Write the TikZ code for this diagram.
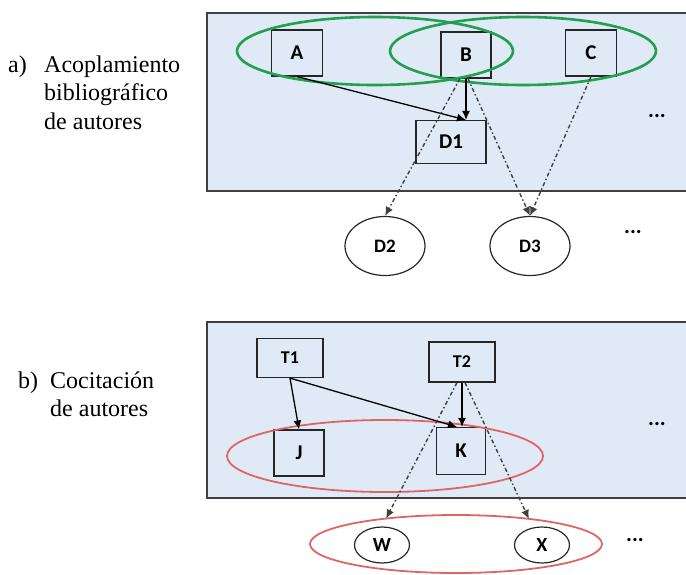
\documentclass[tikz,border=0pt]{standalone}
\usepackage{fontspec}
\setmainfont{Liberation Serif}
\newfontfamily\boxfont{Carlito}
\usetikzlibrary{arrows.meta,shapes.geometric}
\definecolor{panelblue}{HTML}{DFEAF6}
\definecolor{grpgreen}{HTML}{22A04F}
\definecolor{grpred}{HTML}{E06464}
\definecolor{dashgray}{HTML}{404040}
\begin{document}
\begin{tikzpicture}[x=1pt,y=-1pt,
  panel/.style={draw=black!75,line width=1.5pt,fill=panelblue},
  sq/.style={draw=black!85,line width=1.2pt,inner sep=0pt,font=\boxfont\bfseries\fontsize{21}{21}\selectfont},
  circ/.style={ellipse,draw=black!85,line width=1.2pt,inner sep=0pt,font=\boxfont\bfseries\fontsize{19}{19}\selectfont},
  greengrp/.style={ellipse,draw=grpgreen,line width=2.6pt,inner sep=0pt,outer sep=0pt},
  redgrp/.style={ellipse,draw=grpred,line width=1.8pt,inner sep=0pt,outer sep=0pt},
  arr/.style={draw=black,line width=1.3pt,-{Latex[length=9pt,width=8pt]}},
  darr/.style={draw=dashgray,line width=1.4pt,dash pattern=on 4pt off 2.5pt on 1.5pt off 2.5pt,-{Latex[length=9pt,width=8pt]}},
  dots/.style={font=\boxfont\bfseries\fontsize{22}{22}\selectfont,inner sep=0pt},
  lbl/.style={font=\rmfamily\fontsize{24}{28.5}\selectfont,inner sep=0pt,anchor=base west,align=left}
]
\useasboundingbox (0,0) rectangle (686,574);
\clip (0,0) rectangle (686,574);

% panels
\draw[panel] (207,13) rectangle (694,191);
\draw[panel] (207,322) rectangle (694,498);

% labels (base anchor of a multi-line node = baseline of its last line)
\node[lbl] (la0) at (8,72) {a)};
\node[lbl] (la) at (44,129) {Acoplamiento\\bibliográfico\\de autores};
\node[lbl] (lb0) at (18,388) {b)};
\node[lbl] (lb) at (50,416.5) {Cocitación\\de autores};

% top panel nodes
\node[sq,minimum width=51pt,minimum height=46pt] (A) at (297,53) {A};
\node[sq,minimum width=50pt,minimum height=46pt] (B) at (466,55) {B};
\node[sq,minimum width=51pt,minimum height=46pt] (C) at (591,53) {C};
\node[sq,minimum width=70pt,minimum height=43pt] (D1) at (451,142) {D1};
\node[greengrp,minimum width=276pt,minimum height=68pt] (g1) at (375,51) {};
\node[greengrp,minimum width=266pt,minimum height=68pt] (g2) at (523,51) {};
\node[dots] (e1) at (657,116) {...};

\node[circ,minimum width=80pt,minimum height=59pt] (D2) at (385,246) {D2};
\node[circ,minimum width=80pt,minimum height=59pt] (D3) at (530,246) {D3};
\node[dots] (e2) at (633,232) {...};

\draw[arr] (A.south) -- (B.south |- D1.north);
\draw[arr] (B.south) -- (B.south |- D1.north);
\draw[darr] ([xshift=-6pt]B.south) -- (D2.north);
\draw[darr] ([xshift=2pt]B.south) -- (D3.north);
\draw[darr] (C.south) -- (D3.north);

% bottom panel nodes
\node[sq,minimum width=66pt,minimum height=39pt,font=\boxfont\bfseries\fontsize{18}{18}\selectfont] (T1) at (290,358) {T1};
\node[sq,minimum width=66pt,minimum height=40pt,font=\boxfont\bfseries\fontsize{18}{18}\selectfont] (T2) at (462,362) {T2};
\node[sq,minimum width=50pt,minimum height=46pt] (J) at (299,453) {J};
\node[sq,minimum width=49pt,minimum height=47pt] (K) at (461,451) {K};
\node[redgrp,minimum width=316pt,minimum height=72pt] (r1) at (385,456) {};
\node[dots] (e3) at (657,424) {...};

\node[circ,minimum width=55pt,minimum height=36pt,font=\boxfont\bfseries\fontsize{20}{20}\selectfont] (W) at (382,545) {W};
\node[circ,minimum width=55pt,minimum height=36pt,font=\boxfont\bfseries\fontsize{20}{20}\selectfont] (X) at (542,545) {X};
\node[redgrp,minimum width=292pt,minimum height=58pt] (r2) at (456,544) {};
\node[dots] (e4) at (635,540) {...};

\draw[arr] (T1.south) -- (J.north);
\draw[arr] (T1.south) -- ([xshift=-4pt]K.north);
\draw[arr] (T2.south) -- (T2.south |- K.north);
\draw[darr] ([xshift=-5pt]T2.south) -- (r2.160);
\draw[darr] ([xshift=3pt]T2.south) -- (r2.19);
\end{tikzpicture}
\end{document}
